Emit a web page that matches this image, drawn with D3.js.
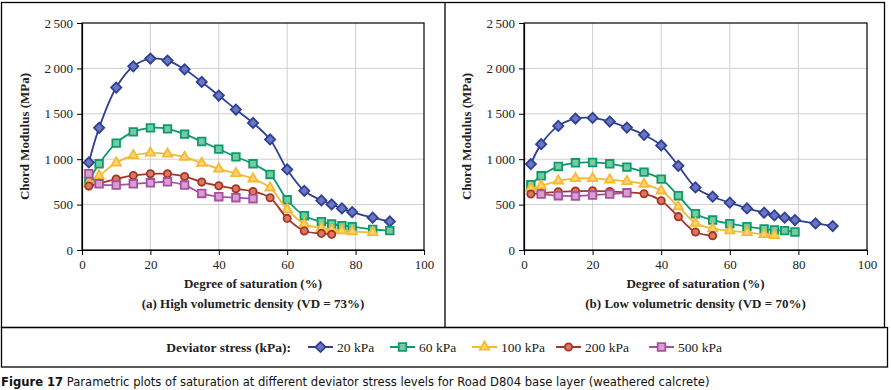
<!DOCTYPE html>
<html>
<head>
<meta charset="utf-8">
<script src="https://cdn.jsdelivr.net/npm/d3@7"></script>
<style>
  body { margin: 0; background: #fff; }
  svg { display: block; }
</style>
</head>
<body>
<div id="chart"></div>
<script>
// Degree of saturation (%) where measurements were taken
var satFull = [2, 5, 10, 15, 20, 25, 30, 35, 40, 45, 50, 55, 60, 65, 70, 73, 76, 79, 85, 90];

// Panel (a) high volumetric density (VD = 73%)
var hi20  = [964, 1345, 1789, 2023, 2108, 2086, 1990, 1851, 1701, 1547, 1400, 1217, 887, 652, 546, 502, 458, 418, 356, 315];
var hi60  = [752, 949, 1177, 1301, 1345, 1334, 1276, 1195, 1111, 1026, 949, 832, 553, 378, 312, 286, 268, 257, 227, 213];
var hi100 = [730, 817, 960, 1041, 1070, 1059, 1023, 957, 894, 843, 784, 685, 447, 286, 242, 224, 213, 202, 194];
var hi200 = [704, 735, 781, 821, 839, 839, 810, 748, 707, 674, 645, 576, 348, 209, 183, 172];
var hi500 = [840, 729, 715, 729, 740, 751, 715, 623, 587, 576, 565];

// Panel (b) low volumetric density (VD = 70%)
var lo20  = [946, 1166, 1367, 1448, 1455, 1415, 1349, 1268, 1151, 927, 689, 587, 521, 458, 411, 381, 356, 330, 293, 264];
var lo60  = [718, 817, 920, 960, 964, 949, 913, 858, 781, 598, 400, 330, 290, 257, 231, 220, 213, 198];
var lo100 = [680, 707, 762, 788, 788, 773, 755, 726, 652, 477, 297, 235, 213, 194, 172, 161];
var lo200 = [616, 625, 641, 649, 652, 645, 634, 620, 543, 367, 198, 158];
var lo500 = [616, 598, 594, 605, 616, 630];   // starts at 5 %

var seriesKeys = ["20 kPa", "60 kPa", "100 kPa", "200 kPa", "500 kPa"];
var xTicks = [0, 20, 40, 60, 80, 100];
var yTicks = [0, 500, 1000, 1500, 2000, 2500];

var styles = {
  "20 kPa":  {line: "#2f3f93", fill: "#6a76c4", shape: "diamond"},
  "60 kPa":  {line: "#10996b", fill: "#72cca2", shape: "square"},
  "100 kPa": {line: "#f5b935", fill: "#fbd672", shape: "triangle"},
  "200 kPa": {line: "#a5352a", fill: "#d9785c", shape: "circle"},
  "500 kPa": {line: "#a6519e", fill: "#d79fcf", shape: "square"}
};

function pairs(xs, ys) { return ys.map((v, i) => ({x: xs[i], y: v})); }

var panels = [
  {left: 82, right: 424, label: "(a) High volumetric density (VD = 73%)",
   data: [pairs(satFull, hi20), pairs(satFull, hi60), pairs(satFull, hi100), pairs(satFull, hi200), pairs(satFull, hi500)]},
  {left: 524, right: 867, label: "(b) Low volumetric density (VD = 70%)",
   data: [pairs(satFull, lo20), pairs(satFull, lo60), pairs(satFull, lo100), pairs(satFull, lo200), pairs(satFull.slice(1), lo500)]}
];

var W = 891, H = 390;
var plotTop = 23, plotBottom = 250;
var serif = "'Liberation Serif', 'DejaVu Serif', serif";

var svg = d3.select("#chart").append("svg")
  .attr("width", W).attr("height", H);

var fmt = d3.formatLocale({decimal: ".", thousands: "\u2009", grouping: [3], currency: ["", ""]}).format(",");

// symbol generator for each marker shape
function markerPath(shape) {
  if (shape === "diamond") return d3.symbol().type(d3.symbolSquare).size(52)();
  if (shape === "square") return d3.symbol().type(d3.symbolSquare).size(58)();
  if (shape === "triangle") return d3.symbol().type(d3.symbolTriangle).size(38)();
  return d3.symbol().type(d3.symbolCircle).size(42)();
}

function drawMarker(g, key, cx, cy) {
  var st = styles[key];
  g.append("path")
    .attr("d", markerPath(st.shape))
    .attr("transform", "translate(" + cx + "," + cy + ")" + (st.shape === "diamond" ? " rotate(45)" : ""))
    .attr("fill", st.fill)
    .attr("stroke", st.line)
    .attr("stroke-width", 1.8);
}

panels.forEach(function(p) {
  var x = d3.scaleLinear().domain([0, 100]).range([p.left, p.right]);
  var y = d3.scaleLinear().domain([0, 2500]).range([plotBottom, plotTop]);
  var g = svg.append("g");

  // grid
  g.append("g").selectAll("line").data(xTicks.slice(1, -1)).enter().append("line")
    .attr("x1", d => x(d)).attr("x2", d => x(d)).attr("y1", plotTop).attr("y2", plotBottom)
    .attr("stroke", "#cfcfcf").attr("stroke-width", 1);
  g.append("g").selectAll("line").data(yTicks.slice(1, -1)).enter().append("line")
    .attr("x1", p.left).attr("x2", p.right).attr("y1", d => y(d)).attr("y2", d => y(d))
    .attr("stroke", "#cfcfcf").attr("stroke-width", 1);

  // frame
  g.append("rect")
    .attr("x", p.left).attr("y", plotTop)
    .attr("width", p.right - p.left).attr("height", plotBottom - plotTop)
    .attr("fill", "none").attr("stroke", "#000").attr("stroke-width", 1.2);

  var xAxis = g.append("g")
    .attr("transform", "translate(0," + plotBottom + ")")
    .call(d3.axisBottom(x).tickValues(xTicks).tickSize(5).tickSizeOuter(0).tickPadding(5));
  var yAxis = g.append("g")
    .attr("transform", "translate(" + p.left + ",0)")
    .call(d3.axisLeft(y).tickValues(yTicks).tickFormat(fmt).tickSize(5).tickSizeOuter(0).tickPadding(4));
  [xAxis, yAxis].forEach(function(a) {
    a.select(".domain").attr("stroke", "#000").attr("stroke-width", 1.2);
    a.selectAll(".tick line").attr("stroke", "#000");
    a.selectAll("text").attr("font-family", serif).attr("font-size", "13px").attr("fill", "#222");
  });

  // series lines then markers (later series on top)
  var line = d3.line().x(d => x(d.x)).y(d => y(d.y)).curve(d3.curveCatmullRom.alpha(0.5));
  p.data.forEach(function(pts, i) {
    var key = seriesKeys[i];
    var sg = g.append("g");
    sg.append("path")
      .attr("d", line(pts))
      .attr("fill", "none")
      .attr("stroke", styles[key].line)
      .attr("stroke-width", 1.8);
    pts.forEach(function(d) { drawMarker(sg, key, x(d.x), y(d.y)); });
  });

  // axis titles
  var cx = (p.left + p.right) / 2;
  g.append("text")
    .attr("x", cx).attr("y", 288)
    .attr("text-anchor", "middle")
    .attr("font-family", serif).attr("font-weight", "bold").attr("font-size", "13px")
    .attr("fill", "#222")
    .text("Degree of saturation (%)");
  g.append("text")
    .attr("x", cx).attr("y", 308)
    .attr("text-anchor", "middle")
    .attr("font-family", serif).attr("font-weight", "bold").attr("font-size", "13px")
    .attr("fill", "#222")
    .text(p.label);
  g.append("text")
    .attr("transform", "translate(" + (p.left - 53) + "," + ((plotTop + plotBottom) / 2) + ") rotate(-90)")
    .attr("text-anchor", "middle")
    .attr("font-family", serif).attr("font-weight", "bold").attr("font-size", "13px")
    .attr("fill", "#222")
    .text("Chord Modulus (MPa)");
});

// outer boxes
svg.append("rect").attr("x", 1.5).attr("y", 2.5).attr("width", 883).attr("height", 325)
  .attr("fill", "none").attr("stroke", "#000").attr("stroke-width", 1.3);
svg.append("line").attr("x1", 445).attr("x2", 445).attr("y1", 2.5).attr("y2", 327.5)
  .attr("stroke", "#000").attr("stroke-width", 1.3);
svg.append("rect").attr("x", 1.5).attr("y", 327.5).attr("width", 886).attr("height", 39.5)
  .attr("fill", "none").attr("stroke", "#000").attr("stroke-width", 1.3);

// legend
var legY = 347;
svg.append("text")
  .attr("x", 291).attr("y", legY + 4.5)
  .attr("text-anchor", "end")
  .attr("font-family", serif).attr("font-weight", "bold").attr("font-size", "13.5px")
  .attr("fill", "#222")
  .text("Deviator stress (kPa):");
var legX = [308, 390, 472, 556, 649];
seriesKeys.forEach(function(key, i) {
  var lg = svg.append("g");
  lg.append("line")
    .attr("x1", legX[i]).attr("x2", legX[i] + 25)
    .attr("y1", legY).attr("y2", legY)
    .attr("stroke", styles[key].line).attr("stroke-width", 2);
  drawMarker(lg, key, legX[i] + 12.5, legY);
  lg.append("text")
    .attr("x", legX[i] + 29).attr("y", legY + 4.5)
    .attr("font-family", serif).attr("font-size", "13.5px")
    .attr("fill", "#222")
    .text(key);
});

// caption (condensed sans, fitted to the reference width)
var cap = svg.append("text")
  .attr("x", 1).attr("y", 386)
  .attr("font-family", "'Liberation Sans Narrow', 'DejaVu Sans Condensed', 'DejaVu Sans', sans-serif")
  .style("font-stretch", "condensed")
  .attr("font-size", "15px")
  .attr("fill", "#111");
cap.append("tspan").attr("font-weight", "bold").text("Figure 17");
cap.append("tspan").text(" Parametric plots of saturation at different deviator stress levels for Road D804 base layer (weathered calcrete)");
var capW = cap.node().getComputedTextLength();
cap.attr("font-size", (15 * 709 / capW) + "px");
</script>
</body>
</html>
